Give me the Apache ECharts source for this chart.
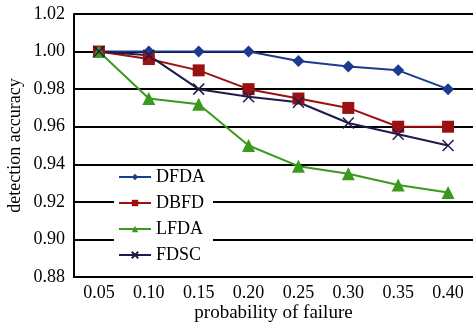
<!DOCTYPE html>
<html>
<head>
<meta charset="utf-8">
<script src="https://cdn.jsdelivr.net/npm/echarts@6/dist/echarts.min.js"></script>
<style>
  html, body { margin: 0; padding: 0; background: #fff; }
  #chart { width: 473px; height: 323px; }
</style>
</head>
<body>
<div id="chart"></div>
<script>
  var categories = ['0.05', '0.10', '0.15', '0.20', '0.25', '0.30', '0.35', '0.40'];
  var dfda = [1.000, 1.000, 1.000, 1.000, 0.995, 0.992, 0.990, 0.980];
  var dbfd = [1.000, 0.996, 0.990, 0.980, 0.975, 0.970, 0.960, 0.960];
  var lfda = [1.000, 0.975, 0.972, 0.950, 0.939, 0.935, 0.929, 0.925];
  var fdsc = [1.000, 0.998, 0.980, 0.976, 0.973, 0.962, 0.956, 0.950];

  var crossPath = 'path://M0,0 L10,10 M10,0 L0,10 M0,0 L10,10';
  var font = 'Liberation Serif, Times New Roman, serif';

  var chart = echarts.init(document.getElementById('chart'));

  function line(name, data, color, symbol, size) {
    return {
      name: name,
      type: 'line',
      data: data,
      symbol: symbol,
      symbolSize: size,
      showSymbol: true,
      lineStyle: { color: color, width: 2 },
      itemStyle: { color: color, borderColor: color, borderWidth: symbol === crossPath ? 1.5 : 0 },
      animation: false
    };
  }

  chart.setOption({
    animation: false,
    grid: { left: 74, right: 0, top: 14, bottom: 46, containLabel: false, outerBoundsMode: 'none' },
    legend: {
      orient: 'vertical',
      left: 114,
      top: 167,
      itemWidth: 32,
      itemHeight: 8,
      itemGap: 8,
      backgroundColor: '#fff',
      padding: [1, 8, 3, 4],
      textStyle: { fontFamily: font, fontSize: 18, color: '#000' },
      data: ['DFDA', 'DBFD', 'LFDA', 'FDSC']
    },
    xAxis: {
      type: 'category',
      data: categories,
      boundaryGap: true,
      name: 'probability of failure',
      nameLocation: 'middle',
      nameGap: 27,
      nameMoveOverlap: false,
      nameTextStyle: { fontFamily: font, fontSize: 19, color: '#000' },
      axisLine: { lineStyle: { color: '#000', width: 2 } },
      axisTick: { inside: true, length: 8, lineStyle: { color: '#000', width: 2 } },
      axisLabel: { fontFamily: font, fontSize: 18, color: '#000', margin: 7 }
    },
    yAxis: {
      type: 'value',
      min: 0.88,
      max: 1.02,
      interval: 0.02,
      name: 'detection accuracy',
      nameLocation: 'middle',
      nameGap: 50,
      nameMoveOverlap: false,
      nameTextStyle: { fontFamily: font, fontSize: 18, color: '#000' },
      axisLine: { show: true, lineStyle: { color: '#000', width: 2 } },
      axisTick: { show: false },
      axisLabel: {
        fontFamily: font, fontSize: 18, color: '#000', margin: 9,
        formatter: function (v) { return v.toFixed(2); }
      },
      splitLine: { lineStyle: { color: '#000', width: 2 } }
    },
    series: [
      line('DFDA', dfda, '#1c3a8f', 'diamond', 12),
      line('DBFD', dbfd, '#9b1010', 'rect', 12),
      line('LFDA', lfda, '#3a9a1c', 'triangle', 13),
      line('FDSC', fdsc, '#1e1a4a', crossPath, 11)
    ]
  });
</script>
</body>
</html>
